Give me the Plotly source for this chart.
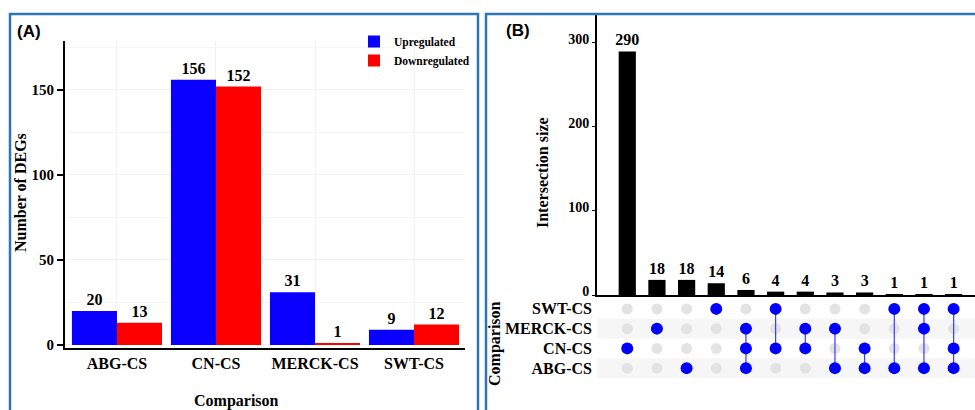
import plotly.graph_objects as go

# ---------------- data ----------------
comparisons = ["ABG-CS", "CN-CS", "MERCK-CS", "SWT-CS"]
upregulated = [20, 156, 31, 9]
downregulated = [13, 152, 1, 12]

sets = ["ABG-CS", "CN-CS", "MERCK-CS", "SWT-CS"]  # bottom to top in matrix
intersection_sizes = [290, 18, 18, 14, 6, 4, 4, 3, 3, 1, 1, 1]
intersection_members = [
    ["CN-CS"],
    ["MERCK-CS"],
    ["ABG-CS"],
    ["SWT-CS"],
    ["MERCK-CS", "CN-CS", "ABG-CS"],
    ["SWT-CS", "CN-CS"],
    ["MERCK-CS", "CN-CS"],
    ["MERCK-CS", "ABG-CS"],
    ["CN-CS", "ABG-CS"],
    ["SWT-CS", "ABG-CS"],
    ["SWT-CS", "MERCK-CS", "ABG-CS"],
    ["SWT-CS", "CN-CS", "ABG-CS"],
]

# ---------------- style ----------------
W, H = 975, 410
SERIF = "Liberation Serif"
SANS = "Liberation Sans"
BLUE = "#0a00ff"
RED = "#ff0000"
DOT_BLUE = "#0000ff"
BORDER = "#2e75b6"


def px_x(p):
    return p / W


def px_y(p):
    return 1 - p / H


fig = go.Figure()

bar_text_font = dict(family=SERIF, size=16, color="black", weight="bold")

# ---------------- panel A ----------------
fig.add_trace(go.Bar(
    x=comparisons, y=upregulated, name="Upregulated", marker_color=BLUE,
    marker_line_width=0, text=upregulated, textposition="outside",
    textfont=bar_text_font, constraintext="none",
    cliponaxis=False, xaxis="x", yaxis="y",
))
fig.add_trace(go.Bar(
    x=comparisons, y=downregulated, name="Downregulated", marker_color=RED,
    marker_line_width=0, text=downregulated, textposition="outside",
    textfont=bar_text_font, constraintext="none",
    cliponaxis=False, xaxis="x", yaxis="y",
))

# ---------------- panel B: bars ----------------
idx = list(range(len(intersection_sizes)))
fig.add_trace(go.Bar(
    x=idx, y=intersection_sizes, marker_color="black", width=0.58,
    marker_line_width=0, text=intersection_sizes, textposition="outside",
    textfont=bar_text_font, constraintext="none",
    cliponaxis=False, showlegend=False, xaxis="x2", yaxis="y2",
))

# ---------------- panel B: matrix ----------------
gx, gy = [], []
for i in idx:
    for s_i, s in enumerate(sets):
        gx.append(i)
        gy.append(s_i)
fig.add_trace(go.Scatter(
    x=gx, y=gy, mode="markers",
    marker=dict(size=11, color="#e3e3e3"),
    showlegend=False, hoverinfo="skip", xaxis="x3", yaxis="y3",
))
for i, mem in zip(idx, intersection_members):
    rows = [sets.index(m) for m in mem]
    if len(rows) > 1:
        fig.add_trace(go.Scatter(
            x=[i, i], y=[min(rows), max(rows)], mode="lines",
            line=dict(color="#3a3aff", width=1.2),
            showlegend=False, hoverinfo="skip", xaxis="x3", yaxis="y3",
        ))
bx, by = [], []
for i, mem in zip(idx, intersection_members):
    for m in mem:
        bx.append(i)
        by.append(sets.index(m))
fig.add_trace(go.Scatter(
    x=bx, y=by, mode="markers",
    marker=dict(size=12, color=DOT_BLUE),
    showlegend=False, hoverinfo="skip", xaxis="x3", yaxis="y3",
))

# row shading bands (MERCK-CS and ABG-CS rows)
shapes = []
for s_i, s in enumerate(sets):
    if s_i % 2 == 0:
        shapes.append(dict(
            type="rect", xref="paper", yref="y3",
            x0=px_x(597), x1=1, y0=s_i - 0.5, y1=s_i + 0.5,
            fillcolor="#f6f6f6", line_width=0, layer="below",
        ))

# panel borders
shapes.append(dict(type="rect", xref="paper", yref="paper",
                   x0=px_x(10), x1=px_x(478), y0=-0.1, y1=px_y(14),
                   line=dict(color=BORDER, width=2.5), fillcolor="rgba(0,0,0,0)"))
shapes.append(dict(type="rect", xref="paper", yref="paper",
                   x0=px_x(486), x1=1.1, y0=-0.1, y1=px_y(14),
                   line=dict(color=BORDER, width=2.5), fillcolor="rgba(0,0,0,0)"))

tickfont_serif = dict(family=SERIF, size=16, color="black", weight="bold")

annotations = [
    dict(text="(A)", x=px_x(15), y=px_y(32), xref="paper", yref="paper",
         xanchor="left", yanchor="middle", showarrow=False,
         font=dict(family=SANS, size=17, color="black", weight="bold")),
    dict(text="(B)", x=px_x(504), y=px_y(31), xref="paper", yref="paper",
         xanchor="left", yanchor="middle", showarrow=False,
         font=dict(family=SANS, size=17, color="black", weight="bold")),
    dict(text="Number of DEGs", x=px_x(20), y=px_y(193), xref="paper", yref="paper",
         textangle=-90, showarrow=False, xanchor="center", yanchor="middle",
         font=tickfont_serif),
    dict(text="Comparison", x=px_x(236), y=px_y(401), xref="paper", yref="paper",
         showarrow=False, xanchor="center", yanchor="middle",
         font=tickfont_serif),
    dict(text="Intersection size", x=px_x(543), y=px_y(173), xref="paper", yref="paper",
         textangle=-90, showarrow=False, xanchor="center", yanchor="middle",
         font=tickfont_serif),
    dict(text="Comparison", x=px_x(495), y=px_y(344), xref="paper", yref="paper",
         textangle=-90, showarrow=False, xanchor="center", yanchor="middle",
         font=tickfont_serif),
]

fig.update_layout(
    width=W, height=H,
    margin=dict(l=0, r=0, t=0, b=0, pad=0),
    paper_bgcolor="white", plot_bgcolor="rgba(0,0,0,0)",
    barmode="group", bargap=0.09, bargroupgap=0,
    font=dict(family=SERIF, color="black"),
    showlegend=True,
    legend=dict(
        x=px_x(354), y=px_y(27), xanchor="left", yanchor="top",
        font=dict(family=SERIF, size=11.5, color="black", weight="bold"),
        bgcolor="rgba(0,0,0,0)", tracegroupgap=0, itemwidth=30,
    ),
    xaxis=dict(
        domain=[px_x(65), px_x(465)], range=[-0.525, 3.515],
        showline=True, linecolor="black", linewidth=2,
        ticks="", tickfont=tickfont_serif,
        showgrid=True, gridcolor="#f1f1f1", gridwidth=1,
        zeroline=False, anchor="y", automargin=False,
    ),
    yaxis=dict(
        domain=[px_y(348), px_y(41)], range=[-1.8, 178.8],
        showline=True, linecolor="black", linewidth=2,
        ticks="outside", ticklen=6, tickwidth=2, tickcolor="black",
        tickvals=[0, 50, 100, 150], tickfont=dict(family=SERIF, size=15, color="black", weight="bold"),
        showgrid=True, gridcolor="#f1f1f1", gridwidth=1,
        minor=dict(dtick=25, showgrid=True, gridcolor="#f5f5f5"),
        zeroline=False, anchor="x", automargin=False,
    ),
    xaxis2=dict(
        domain=[px_x(597), 1], range=[-1.02, 11.72],
        showline=True, linecolor="black", linewidth=2,
        showticklabels=False, ticks="", showgrid=False, zeroline=False,
        anchor="y2", automargin=False,
    ),
    yaxis2=dict(
        domain=[px_y(295), px_y(14)], range=[0, 334.5],
        showline=True, linecolor="black", linewidth=2,
        ticks="outside", ticklen=3, tickwidth=1, tickcolor="black",
        tickvals=[0, 100, 200, 300], ticklabelshift=-4,
        tickfont=dict(family=SERIF, size=14, color="black", weight="bold"),
        showgrid=False, zeroline=False, anchor="x2", automargin=False,
    ),
    xaxis3=dict(
        domain=[px_x(597), 1], range=[-1.02, 11.72],
        showline=False, showticklabels=False, ticks="", showgrid=False,
        zeroline=False, anchor="y3", matches="x2", automargin=False,
    ),
    yaxis3=dict(
        domain=[px_y(378), px_y(299)], range=[-0.5, 3.5],
        tickvals=list(range(len(sets))), ticktext=sets,
        tickfont=tickfont_serif, ticks="", showline=False, showgrid=False,
        ticklabelstandoff=4,
        zeroline=False, anchor="x3", automargin=False,
    ),
    shapes=shapes,
    annotations=annotations,
)

fig.write_html(
    "out.html",
    config={"displayModeBar": False},
    post_script="document.body.style.margin='0';document.body.style.overflow='hidden';",
)
